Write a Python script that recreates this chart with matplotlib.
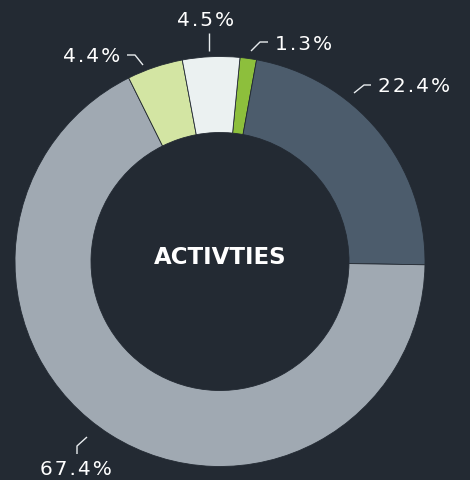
import matplotlib
matplotlib.use("Agg")
import matplotlib.pyplot as plt

# ---- data ----
labels = ["1.3%", "22.4%", "67.4%", "4.4%", "4.5%"]
values = [1.3, 22.4, 67.4, 4.4, 4.5]
colors = ["#8dbf3c", "#4c5c6c", "#a0a9b2", "#d3e5a3", "#ebf1f1"]
center_title = "ACTIVTIES"

# ---- layout (pixel coords, y down) ----
W, H = 470, 481
BG = "#232a33"
cx, cy = 220, 262.5
R_OUT, R_IN = 205, 129

leaders = [
    [(251, 52), (260, 43), (268, 43)],
    [(354, 94), (364, 86), (371, 86)],
    [(77, 455), (77, 447), (87, 438)],
    [(143, 66), (135, 56), (127, 56)],
    [(209, 52), (209, 34)],
]
label_pos = [
    (275, 44, "left"),
    (378, 86, "left"),
    (76, 470, "center"),
    (120, 57, "right"),
    (206, 21, "center"),
]

fig = plt.figure(figsize=(W / 100, H / 100), dpi=100, facecolor=BG)
ax = fig.add_axes([0, 0, 1, 1])
ax.set_facecolor(BG)

def Y(y):
    return H - y

ax.pie(values, colors=colors, startangle=84.4, counterclock=False,
       radius=R_OUT, center=(cx, Y(cy)),
       wedgeprops=dict(width=R_OUT - R_IN, edgecolor=BG, linewidth=0.6))

for pts, (tx, ty, ha), lab in zip(leaders, label_pos, labels):
    xs = [p[0] for p in pts]
    ys = [Y(p[1]) for p in pts]
    ax.plot(xs, ys, color="#e8ecef", lw=1.0, solid_capstyle="butt")
    spaced = "\u200a".join(lab)
    ax.text(tx, Y(ty), spaced, ha=ha, va="center", color="white",
            fontsize=14.5, family=["DejaVu Sans"])

ax.text(cx, Y(257), center_title, ha="center", va="center", color="white",
        fontsize=16.5, fontweight="bold", family="DejaVu Sans")

ax.set_xlim(0, W)
ax.set_ylim(0, H)
ax.set_aspect("auto")
ax.axis("off")

fig.savefig("out.png", dpi=100, facecolor=BG)
